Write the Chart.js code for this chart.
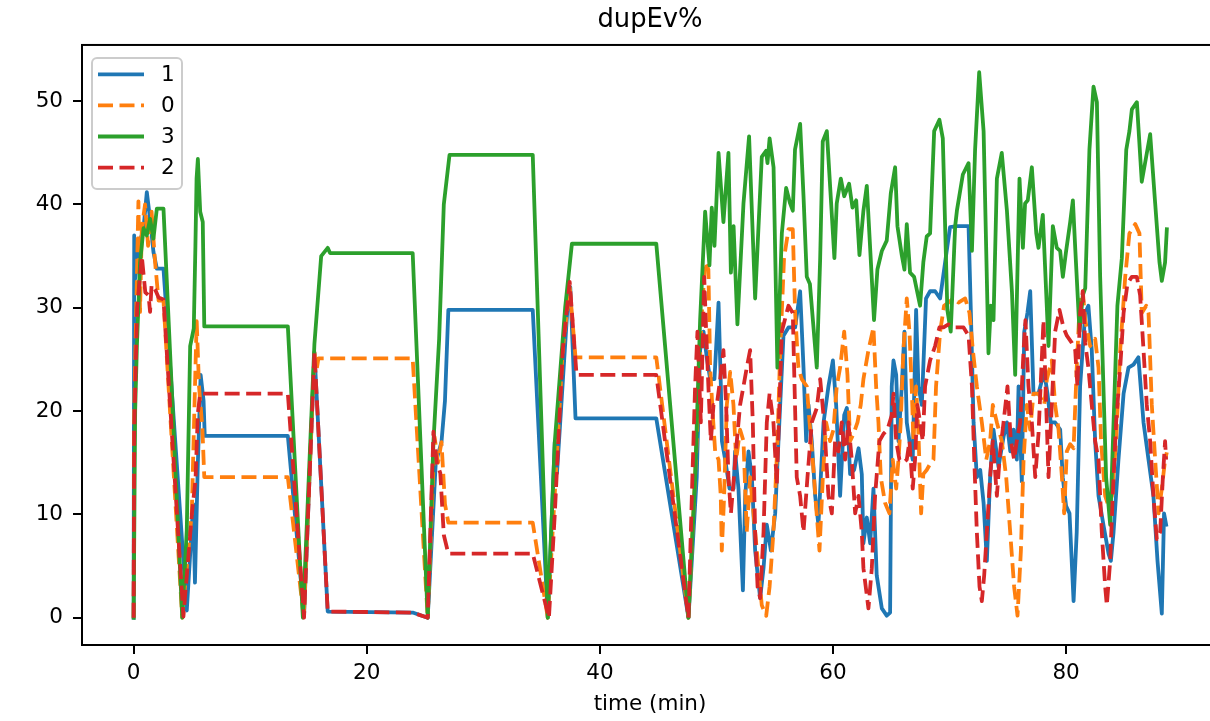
<!DOCTYPE html>
<html>
<head>
<meta charset="utf-8">
<script src="https://cdn.jsdelivr.net/npm/chart.js@4.4.1/dist/chart.umd.min.js"></script>
<style>
  html, body { margin: 0; padding: 0; background: #ffffff; width: 1210px; height: 721px; overflow: hidden; }
  canvas { display: block; }
</style>
</head>
<body>
<canvas id="c" width="1240" height="721"></canvas>
<script>
// ---------------- data ----------------
const chartTitle = 'dupEv%';
const xAxisLabel = 'time (min)';
const seriesNames = ['1', '0', '3', '2'];
const xTicks = [0, 20, 40, 60, 80];
const yTicks = [0, 10, 20, 30, 40, 50];

// series "1"
const time1 = [0, 0.05, 0.13, 0.45, 0.85, 1.13, 1.41, 1.70, 1.99, 2.56,
  4.56, 5.11, 5.26, 5.51, 5.75, 6.0, 6.1, 13.23, 14.62, 15.51,
  16.65, 23.94, 25.23, 25.92, 26.41, 26.71, 27.0, 34.24, 35.53, 36.13,
  36.32, 37.22, 37.46, 37.91, 44.84, 47.6,
  48.31, 48.6, 48.89, 49.17, 49.46, 49.83, 50.18, 50.38, 50.47, 50.75,
  51.12, 51.47, 51.6, 51.89, 52.27, 52.47, 52.75, 53.04, 53.32, 53.75,
  54.04, 54.32, 54.67, 55.04, 55.32, 55.75, 56.18, 56.75, 57.18, 57.47,
  57.7, 57.9, 58.18, 58.47, 58.75, 59.19, 59.61, 59.99, 60.27, 60.61,
  60.96, 61.19, 61.47, 61.81, 62.19, 62.47, 62.61, 62.9, 63.19, 63.47,
  63.75, 64.19, 64.61, 64.9, 65.04, 65.19, 65.42, 65.62, 65.9, 66.13,
  66.33, 66.56, 66.84, 67.13, 67.33, 67.62, 67.98, 68.33, 68.76, 69.19,
  69.62, 70.04, 70.62, 71.2, 71.63, 71.83, 72.06, 72.34, 72.63, 72.92,
  73.2, 73.48, 73.77, 74.2, 74.63, 74.92, 75.21, 75.49, 75.77, 75.92,
  76.2, 76.41, 76.68, 76.92, 77.2, 77.63, 78.12, 78.4, 78.68, 79.06,
  79.49, 79.71, 80.0, 80.29, 80.64, 80.91, 81.2, 81.64, 81.91, 82.2,
  82.49, 82.78, 83.2, 83.64, 83.84, 84.07, 84.49, 84.93, 85.35, 85.78,
  86.2, 86.64, 87.07, 87.49, 87.84, 88.21, 88.4, 88.58];
const value1 = [0, 37, 32.8, 36, 37.7, 41.2, 38.6, 35.4, 33.8, 33.8,
  0.7, 11, 3.4, 15, 23.5, 21, 17.6, 17.6, 0.2, 25.7,
  0.6, 0.5, 0, 15, 17, 21, 29.8, 29.8, 0, 17,
  14, 30, 32, 19.3, 19.3, 0,
  13.6, 25.9, 27.7, 25.2, 23.1, 23.1, 30.5, 22.4, 17.1, 15.3,
  12.5, 12.5, 16.1, 12.5, 2.65, 11.8, 16.1, 13.6, 6.5, 1.9,
  4.8, 9.0, 6.5, 10.1, 17.1, 27.3, 28.1, 28.1, 31.6, 24.2,
  17.1, 20.6, 17.1, 11.8, 9.0, 18.9, 22.4, 24.9, 20.6, 11.8,
  19.6, 20.3, 13.9, 14.3, 16.4, 13.9, 7.2, 9.7, 7.2, 12.5,
  4.1, 0.9, 0.2, 0.5, 22.4, 24.9, 23.5, 17.1, 22.4, 27.7,
  18.9, 17.1, 15.3, 29.8, 22.4, 20.6, 30.9, 31.6, 31.6, 30.9,
  34.4, 37.8, 37.9, 37.9, 37.9, 29.5, 18.9, 13.6, 14.3, 11.1,
  5.5, 13.6, 18.2, 14.6, 17.5, 18.9, 16.1, 18.2, 15.3, 22.4,
  13.2, 27.7, 29.5, 31.6, 21.7, 21.7, 23.8, 21.7, 18.9, 18.9,
  18.2, 13.6, 10.8, 10.1, 1.6, 8.3, 22.4, 29.5, 30.2, 25.9,
  17.1, 11.8, 9.0, 6.2, 5.5, 8.3, 15.3, 21.7, 24.2, 24.5,
  25.2, 18.9, 15.3, 11.8, 5.5, 0.4, 10.1, 9.0];

// series "0"
const time0 = [0, 0.05, 0.41, 0.55, 0.7, 0.98, 1.24, 1.54, 1.84, 2.14,
  2.56, 4.17, 4.99, 5.28, 5.41, 5.61, 5.9, 6.06, 13.23, 14.6,
  15.51, 15.7, 15.85, 23.94, 25.23, 25.82, 26.11, 26.41, 26.71, 27.0,
  34.24, 35.53, 36.13, 36.82, 37.41, 37.91, 44.84, 47.6,
  48.31, 48.75, 49.03, 49.31, 49.46, 49.69, 49.89, 50.18, 50.37, 50.46,
  50.66, 50.89, 51.18, 51.46, 51.69, 52.03, 52.32, 52.6, 52.89, 53.18,
  53.6, 53.89, 54.27, 54.56, 54.89, 55.03, 55.24, 55.47, 55.8, 56.18,
  56.55, 56.75, 57.03, 57.32, 57.75, 57.99, 58.26, 58.55, 58.84, 59.13,
  59.41, 59.75, 60.04, 60.32, 60.61, 60.96, 61.24, 61.47, 61.76, 62.1,
  62.38, 62.61, 63.04, 63.47, 63.7, 63.9, 64.1, 64.47, 64.84, 65.13,
  65.42, 65.62, 65.81, 66.04, 66.33, 66.56, 66.75, 66.9, 67.13, 67.33,
  67.56, 67.75, 68.04, 68.39, 68.62, 68.84, 69.19, 69.53, 69.9, 70.33,
  70.76, 71.34, 71.71, 72.0, 72.34, 72.77, 73.15, 73.48, 73.71, 74.06,
  74.48, 74.86, 75.2, 75.54, 75.83, 76.12, 76.35, 76.63, 76.92, 77.2,
  77.63, 78.12, 78.35, 78.77, 79.06, 79.35, 79.64, 79.83, 80.06, 80.35,
  80.64, 80.91, 81.2, 81.43, 81.64, 82.06, 82.49, 82.78, 83.0, 83.35,
  83.64, 83.93, 84.29, 84.64, 85.07, 85.43, 85.93, 86.29, 86.49, 86.87,
  87.07, 87.35, 87.64, 87.93, 88.21, 88.49, 88.64];
const value0 = [0, 20, 40.3, 29.6, 37.7, 40, 36, 39.3, 34.4, 30.7,
  30.7, 0, 10.2, 23.1, 28.7, 22.4, 18.3, 13.6, 13.6, 0,
  25.7, 24, 25.1, 25.1, 0, 17.5, 15, 17, 11, 9.2,
  9.2, 0, 12, 26, 32, 25.2, 25.2, 0,
  17.1, 29.5, 34.4, 33.7, 24.2, 19.6, 16.1, 15.3, 11.8, 6.5,
  11.8, 20.6, 23.8, 20.6, 15.3, 18.2, 17.1, 8.3, 13.6, 10.1,
  4.8, 1.2, 0.2, 3.0, 8.3, 11.8, 17.1, 25.9, 34.8, 37.6,
  37.6, 29.5, 24.2, 23.1, 22.4, 18.9, 15.3, 10.8, 6.5, 13.6,
  18.9, 17.1, 18.2, 22.4, 24.2, 27.7, 23.5, 17.1, 17.8, 18.9,
  20.6, 23.1, 25.9, 28.1, 22.4, 18.9, 13.6, 11.1, 10.1, 15.3,
  12.5, 15.3, 18.9, 25.9, 30.9, 27.7, 22.4, 17.1, 22.4, 17.8,
  10.1, 13.9, 14.3, 15.0, 15.3, 22.4, 27.7, 30.2, 30.5, 30.9,
  30.5, 30.9, 29.5, 25.9, 22.4, 18.9, 15.3, 17.1, 20.6, 18.9,
  17.1, 13.6, 8.3, 3.0, 0.2, 6.5, 15.3, 20.6, 18.2, 21.7,
  21.7, 20.6, 23.1, 24.9, 20.6, 18.2, 13.6, 10.1, 16.1, 16.8,
  16.4, 24.2, 31.2, 31.6, 28.8, 26.3, 27.0, 24.2, 17.1, 11.8,
  10.8, 11.8, 17.1, 25.9, 33.0, 37.2, 38.1, 37.2, 29.5, 30.2,
  29.5, 20.6, 15.3, 10.1, 12.5, 15.3, 16];

// series "3"
const time3 = [0, 0.13, 0.28, 0.55, 0.85, 1.13, 1.41, 1.70, 1.99, 2.56,
  4.17, 4.56, 4.85, 5.16, 5.3, 5.4, 5.51, 5.71, 5.93, 6.06,
  13.23, 14.52, 15.51, 16.09, 16.65, 16.85, 23.94, 25.23, 25.72, 26.21,
  26.61, 27.1, 34.24, 35.53, 36.13, 37.02, 37.6, 44.84, 47.6,
  48.17, 48.6, 49.03, 49.4, 49.6, 49.83, 50.18, 50.6, 51.03, 51.24,
  51.47, 51.8, 52.32, 52.8, 53.32, 53.89, 54.26, 54.38, 54.56, 54.9,
  55.23, 55.61, 55.98, 56.32, 56.55, 56.74, 57.18, 57.47, 57.75, 58.02,
  58.61, 58.9, 59.12, 59.47, 59.84, 60.12, 60.32, 60.67, 60.96, 61.38,
  61.67, 61.99, 62.27, 62.61, 62.9, 63.52, 63.81, 64.19, 64.61, 64.96,
  65.33, 65.53, 65.9, 66.13, 66.33, 66.61, 66.96, 67.47, 67.75, 68.04,
  68.33, 68.68, 69.13, 69.42, 69.81, 70.1, 70.48, 70.63, 71.14, 71.63,
  71.92, 72.19, 72.54, 72.92, 73.34, 73.54, 73.77, 74.06, 74.48, 74.92,
  75.35, 75.63, 76.0, 76.29, 76.48, 76.71, 77.06, 77.44, 77.63, 78.0,
  78.49, 78.86, 79.2, 79.49, 79.72, 80.0, 80.35, 80.58, 80.78, 81.15,
  81.43, 81.64, 82.0, 82.35, 82.64, 82.92, 83.43, 83.78, 84.12, 84.4,
  84.78, 85.16, 85.43, 85.64, 86.07, 86.49, 87.21, 87.64, 88.01, 88.21,
  88.49, 88.64];
const value3 = [0, 20, 26.3, 34.4, 37.7, 37, 38.6, 36.7, 39.6, 39.6,
  0, 8.5, 26.3, 28, 36, 42.5, 44.4, 39.3, 38.3, 28.2,
  28.2, 0, 26.5, 35, 35.8, 35.3, 35.3, 0, 17, 27,
  40, 44.8, 44.8, 0, 17, 30, 36.2, 36.2, 0,
  13.6, 28.8, 39.3, 34.1, 39.7, 36.0, 45.0, 38.3, 45.0, 33.4,
  37.9, 28.4, 40.1, 46.6, 30.9, 44.6, 45.2, 44.0, 46.4, 43.6,
  24.2, 37.2, 41.6, 40.1, 39.4, 45.3, 47.8, 40.8, 33.0, 32.3,
  24.2, 34.8, 46.1, 47.1, 40.1, 34.8, 40.1, 42.5, 40.8, 42.0,
  39.7, 40.4, 35.1, 39.4, 41.8, 28.8, 33.7, 35.5, 36.5, 41.1,
  43.6, 37.9, 35.1, 33.7, 38.1, 33.4, 33.0, 30.2, 34.4, 36.9,
  37.2, 47.1, 48.2, 46.4, 29.8, 27.7, 37.9, 39.4, 42.9, 44.0,
  35.5, 45.3, 52.8, 47.1, 25.6, 30.2, 28.8, 42.5, 45.0, 39.4,
  31.6, 23.5, 42.5, 35.8, 40.1, 40.4, 43.6, 37.2, 35.8, 39.0,
  26.3, 37.9, 35.8, 35.5, 33.0, 35.5, 38.3, 40.4, 35.8, 27.7,
  31.2, 31.9, 45.3, 51.4, 49.9, 33.0, 13.6, 9.0, 20.6, 30.2,
  34.8, 45.3, 47.1, 49.2, 49.9, 42.2, 46.8, 40.1, 34.4, 32.6,
  34.4, 37.6];

// series "2"
const time2 = [0, 0.05, 0.3, 0.7, 1.0, 1.28, 1.41, 1.54, 1.84, 2.14,
  2.56, 4.27, 5.01, 5.31, 5.51, 5.71, 13.23, 14.62, 15.51, 16.65,
  23.94, 25.23, 25.72, 26.01, 26.31, 26.61, 27.0, 34.24, 35.63, 36.13,
  36.82, 37.41, 38.0, 44.84, 47.6,
  47.89, 48.17, 48.37, 48.66, 48.95, 49.12, 49.31, 49.52, 49.75, 50.03,
  50.32, 50.6, 50.83, 51.03, 51.24, 51.47, 51.75, 52.03, 52.32, 52.6,
  52.89, 53.12, 53.32, 53.53, 53.75, 54.04, 54.32, 54.56, 54.89, 55.18,
  55.61, 56.18, 56.55, 56.89, 57.18, 57.47, 57.81, 58.18, 58.61, 58.9,
  59.24, 59.61, 59.9, 60.18, 60.47, 60.75, 61.04, 61.32, 61.61, 61.9,
  62.19, 62.47, 62.61, 63.04, 63.33, 63.61, 63.98, 64.33, 64.67, 65.04,
  65.19, 65.42, 65.7, 66.04, 66.33, 66.56, 66.84, 67.04, 67.24, 67.47,
  67.7, 67.9, 68.33, 68.76, 69.13, 69.48, 69.9, 70.33, 70.76, 71.2,
  71.63, 71.92, 72.12, 72.34, 72.57, 72.77, 72.97, 73.2, 73.48, 73.71,
  74.06, 74.34, 74.63, 74.97, 75.26, 75.54, 75.77, 76.06, 76.35, 76.51,
  76.77, 77.06, 77.35, 77.63, 78.06, 78.29, 78.49, 78.77, 79.06, 79.43,
  79.77, 80.06, 80.49, 80.78, 80.97, 81.2, 81.43, 81.64, 81.91, 82.2,
  82.49, 82.78, 83.06, 83.35, 83.49, 83.78, 84.0, 84.29, 84.64, 84.93,
  85.26, 85.64, 86.07, 86.35, 86.64, 86.92, 87.21, 87.49, 87.78, 88.07,
  88.3, 88.49, 88.58];
const value2 = [0, 18, 30, 35, 31.5, 31.2, 29.6, 32.2, 31.8, 31,
  30.8, 0.1, 10.2, 13.4, 19.8, 21.7, 21.7, 0, 25.7, 0.6,
  0.5, 0, 18, 15, 14, 8, 6.2, 6.2, 0, 10,
  26, 32.5, 23.5, 23.5, 0,
  11.8, 22.4, 27.7, 18.9, 33.0, 27.7, 22.4, 17.1, 20.6, 20.6,
  23.1, 25.9, 20.6, 13.6, 10.1, 13.2, 17.1, 20.6, 22.4, 24.2,
  25.9, 18.9, 8.3, 3.0, 1.9, 8.3, 18.9, 21.7, 18.9, 12.9,
  27.7, 30.2, 29.5, 13.6, 11.8, 8.3, 13.6, 18.9, 20.3, 23.1,
  18.9, 11.8, 10.1, 17.1, 16.1, 18.9, 15.3, 18.9, 15.3, 10.1,
  11.8, 8.3, 4.8, 0.9, 4.8, 11.8, 17.1, 17.8, 18.2, 19.6,
  21.7, 17.1, 15.3, 15.0, 15.3, 17.1, 12.5, 15.3, 20.6, 18.9,
  17.1, 22.4, 24.9, 26.3, 28.1, 28.1, 28.4, 28.1, 28.1, 28.1,
  27.3, 22.4, 15.3, 8.3, 3.0, 1.6, 4.1, 8.3, 13.6, 17.1,
  11.8, 16.1, 18.9, 22.4, 17.1, 15.3, 17.1, 18.9, 25.9, 28.8,
  22.4, 18.9, 13.6, 17.8, 28.8, 20.6, 13.6, 20.6, 27.7, 29.8,
  28.1, 27.3, 26.6, 25.9, 22.4, 29.5, 31.6, 26.6, 24.2, 20.6,
  17.1, 15.3, 8.3, 3.0, 1.2, 5.5, 11.8, 18.9, 24.2, 29.5,
  32.3, 33.0, 33.0, 31.2, 25.9, 20.6, 17.1, 11.8, 7.6, 8.3,
  13.6, 17.1, 15.3];

// ---------------- chart ----------------
const FONT = 'DejaVu Sans';
const toPoints = (t, v) => t.map((x, i) => ({ x: x, y: v[i] }));
const dashPattern = [15, 6.5];

const lineStyle = (color, dashed, order) => ({
  borderColor: color,
  backgroundColor: color,
  borderWidth: 3.8,
  borderDash: dashed ? dashPattern : [],
  borderCapStyle: dashed ? 'butt' : 'square',
  borderJoinStyle: 'round',
  pointRadius: 0,
  pointHoverRadius: 0,
  tension: 0,
  fill: false,
  order: order
});

const framePlugin = {
  id: 'frame',
  afterDatasetsDraw(chart) {
    const a = chart.chartArea, ctx = chart.ctx;
    ctx.save();
    ctx.strokeStyle = '#000';
    ctx.lineWidth = 2;
    ctx.setLineDash([]);
    ctx.strokeRect(a.left, a.top, a.right - a.left, a.bottom - a.top);
    ctx.restore();
  }
};

const legendPlugin = {
  id: 'mplLegend',
  afterDraw(chart) {
    const ctx = chart.ctx;
    ctx.save();
    ctx.beginPath();
    ctx.roundRect(92, 58, 90, 131, 5);
    ctx.fillStyle = 'rgba(255,255,255,0.8)';
    ctx.fill();
    ctx.lineWidth = 2;
    ctx.strokeStyle = '#cccccc';
    ctx.stroke();
    chart.data.datasets.forEach((ds, i) => {
      const y = 74.3 + i * 31.1;
      ctx.beginPath();
      ctx.setLineDash(ds.borderDash || []);
      ctx.lineDashOffset = 0;
      ctx.lineCap = 'butt';
      ctx.strokeStyle = ds.borderColor;
      ctx.lineWidth = ds.borderWidth;
      ctx.moveTo(98, y);
      ctx.lineTo(144, y);
      ctx.stroke();
      ctx.setLineDash([]);
      ctx.fillStyle = '#000';
      ctx.font = '21.5px "' + FONT + '"';
      ctx.textAlign = 'left';
      ctx.textBaseline = 'middle';
      ctx.fillText(ds.label, 161, y + 1);
    });
    ctx.restore();
  }
};

Chart.defaults.font.family = FONT;
Chart.defaults.color = '#000';

new Chart(document.getElementById('c'), {
  type: 'line',
  data: {
    datasets: [
      Object.assign({ label: seriesNames[0], data: toPoints(time1, value1) }, lineStyle('#1f77b4', false, 3)),
      Object.assign({ label: seriesNames[1], data: toPoints(time0, value0) }, lineStyle('#ff7f0e', true, 2)),
      Object.assign({ label: seriesNames[2], data: toPoints(time3, value3) }, lineStyle('#2ca02c', false, 1)),
      Object.assign({ label: seriesNames[3], data: toPoints(time2, value2) }, lineStyle('#d62728', true, 0))
    ]
  },
  options: {
    responsive: false,
    animation: false,
    devicePixelRatio: 1,
    layout: { padding: { left: 0, right: 22, top: 0, bottom: 0 } },
    plugins: {
      legend: { display: false },
      tooltip: { enabled: false },
      title: {
        display: true,
        text: chartTitle,
        fullSize: false,
        color: '#000',
        font: { family: FONT, size: 25.8, weight: 'normal' },
        padding: { top: 5, bottom: 9 }
      }
    },
    scales: {
      x: {
        type: 'linear',
        min: -4.43,
        max: 93.03,
        afterBuildTicks: (s) => { s.ticks = xTicks.map(v => ({ value: v })); },
        afterFit: (s) => { s.height = 76; },
        ticks: { includeBounds: false, autoSkip: false, maxRotation: 0, padding: 7,
                 color: '#000', font: { family: FONT, size: 21.5 } },
        grid: { drawOnChartArea: false, drawTicks: true, tickLength: 9, color: '#000', lineWidth: 2 },
        border: { display: true, color: '#000', width: 2 },
        title: { display: true, text: xAxisLabel, color: '#000',
                 font: { family: FONT, size: 21.5 }, padding: { top: 0, bottom: 4 } }
      },
      y: {
        type: 'linear',
        min: -2.64,
        max: 55.44,
        afterBuildTicks: (s) => { s.ticks = yTicks.map(v => ({ value: v })); },
        afterFit: (s) => { s.width = 82; },
        ticks: { includeBounds: false, autoSkip: false, padding: 10,
                 color: '#000', font: { family: FONT, size: 21.5 } },
        grid: { drawOnChartArea: false, drawTicks: true, tickLength: 9, color: '#000', lineWidth: 2 },
        border: { display: true, color: '#000', width: 2 }
      }
    }
  },
  plugins: [framePlugin, legendPlugin]
});
</script>
</body>
</html>
